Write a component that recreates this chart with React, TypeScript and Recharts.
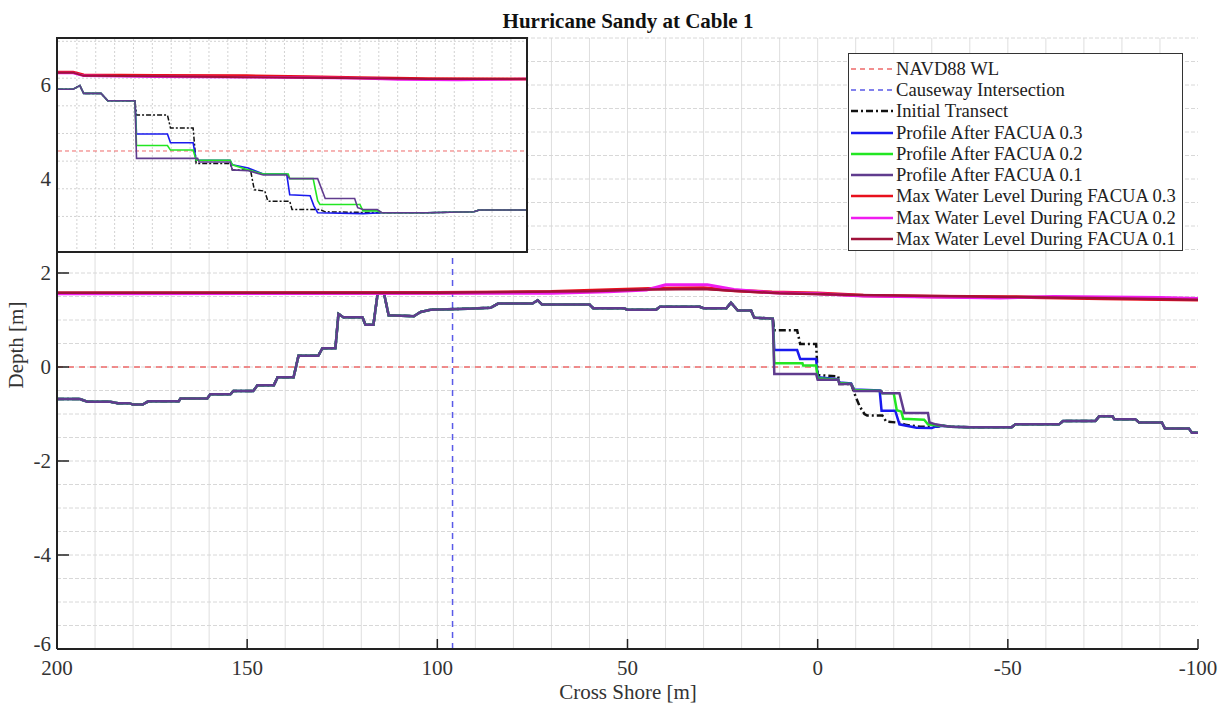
import React from 'react';
import { LineChart, Line, XAxis, YAxis, CartesianGrid, ReferenceLine } from 'recharts';

type Pt = [number, number];

// ---- main axes: cross-shore distance [m] vs depth [m]
const xTicks = [200, 150, 100, 50, 0, -50, -100];
const yTicks = [-6, -4, -2, 0, 2, 4, 6];
const navd88Level = 0;
const causewayX = 96;

// profile landward of the scarp, same for every run
const profileLandward: Pt[] = [
  [200, -0.68], [194, -0.68], [192, -0.74], [186, -0.74], [184, -0.77], [181, -0.77], [180, -0.8],
  [177.5, -0.8], [176, -0.73], [168, -0.73], [167.5, -0.67], [160.5, -0.67], [159.7, -0.58],
  [154.4, -0.58], [153.6, -0.51], [148.4, -0.51], [147.3, -0.39], [143, -0.39], [142, -0.22],
  [137.8, -0.22], [136.5, 0.24], [131.3, 0.24], [130.2, 0.4], [126.8, 0.4], [126, 1.13],
  [124.7, 1.06], [119.7, 1.06], [118.9, 0.9], [116.8, 0.9], [115.7, 1.56], [114, 1.56],
  [112.8, 1.1], [106.2, 1.08], [104.4, 1.17], [101.8, 1.22], [92, 1.24], [86, 1.26], [84, 1.35],
  [75, 1.35], [73.6, 1.42], [72.5, 1.33], [60, 1.33], [59, 1.25], [51, 1.25], [50, 1.22],
  [42.5, 1.22], [41.5, 1.28], [31, 1.28], [30, 1.25], [24, 1.25], [22.8, 1.37], [21, 1.2],
  [17.5, 1.2], [16.7, 1.05], [11.8, 1.03],
];
// profile seaward of the eroded zone
const profileSeaward: Pt[] = [
  [-33, -1.25], [-35, -1.27], [-40, -1.28], [-51, -1.28], [-52, -1.22], [-63.5, -1.22],
  [-64.5, -1.15], [-73, -1.15], [-74, -1.05], [-77.5, -1.05], [-78, -1.11], [-83.5, -1.11],
  [-84.5, -1.18], [-90.5, -1.18], [-91.3, -1.31], [-97.6, -1.31], [-98.4, -1.4], [-100, -1.4],
];
const initialMid: Pt[] = [
  [11.4, 0.78], [5.4, 0.78], [4.6, 0.49], [0.4, 0.49], [0, -0.17], [-5.4, -0.2], [-5.7, -0.36],
  [-8.8, -0.36], [-9.5, -0.53], [-11, -0.83], [-12.3, -1], [-13, -1.03], [-17, -1.03],
  [-18, -1.16], [-22, -1.19], [-23, -1.23], [-27, -1.27], [-31, -1.27],
];
const facua03Mid: Pt[] = [
  [11.4, 0.36], [5.4, 0.36], [4.6, 0.17], [0.4, 0.17], [0, -0.22], [-5.4, -0.26], [-5.7, -0.33],
  [-8.8, -0.35], [-9.6, -0.48], [-16.3, -0.5], [-16.8, -0.93], [-20.4, -0.93], [-21.5, -1.22],
  [-26, -1.29], [-30, -1.3], [-31, -1.27],
];
const facua02Mid: Pt[] = [
  [11.4, 0.08], [4, 0.08], [3.8, 0.03], [0.4, 0.03], [0, -0.24], [-5.4, -0.27], [-5.7, -0.34],
  [-8.8, -0.36], [-9.6, -0.49], [-16.7, -0.51], [-17, -0.56], [-20, -0.56], [-20.8, -0.92],
  [-22, -0.95], [-22.5, -1.1], [-28, -1.12], [-29, -1.22], [-31, -1.24],
];
const facua01Mid: Pt[] = [
  [11.4, -0.15], [0.4, -0.15], [0, -0.27], [-5.4, -0.27], [-5.7, -0.36], [-8.8, -0.36],
  [-9.6, -0.51], [-16.7, -0.51], [-17, -0.56], [-21.5, -0.56], [-22.8, -0.98], [-29, -0.98],
  [-29.4, -1.18], [-31, -1.22],
];
const waterLevel03: Pt[] = [
  [200, 1.57], [100, 1.58], [70, 1.6], [55, 1.64], [42, 1.67], [30, 1.68], [22, 1.63], [12, 1.59],
  [0, 1.57], [-12, 1.52], [-30, 1.5], [-50, 1.49], [-75, 1.46], [-100, 1.43],
];
const waterLevel02: Pt[] = [
  [200, 1.56], [100, 1.57], [70, 1.57], [55, 1.6], [45, 1.64], [40, 1.75], [29, 1.75], [22, 1.65],
  [12, 1.58], [0, 1.56], [-12, 1.51], [-48, 1.47], [-62, 1.5], [-90, 1.48], [-100, 1.46],
];
const waterLevel01: Pt[] = [
  [200, 1.58], [100, 1.58], [60, 1.61], [45, 1.65], [30, 1.66], [20, 1.61], [10, 1.57],
  [-10, 1.53], [-50, 1.49], [-80, 1.46], [-100, 1.43],
];

// ---- inset (zoom on the scarp)
const insetXTicks = [20, 15, 10, 5, 0, -5, -10, -15, -20, -25, -30, -35];
const insetNavd88 = 4.62;
const insetLandward: Pt[] = [
  [25, 5.96], [23, 5.96], [22.1, 6.04], [21.6, 5.87], [19.3, 5.87], [18.4, 5.71], [14.8, 5.71],
];
const insetSeaward: Pt[] = [[-23.8, 3.28], [-30.1, 3.3], [-30.8, 3.34], [-37, 3.34]];
const insetInitialMid: Pt[] = [
  [14.6, 5.4], [10.5, 5.4], [10.1, 5.12], [7.1, 5.12], [6.7, 4.35], [2.2, 4.35], [1.9, 4.21],
  [-0.5, 4.21], [-1, 3.78], [-2.4, 3.75], [-2.8, 3.53], [-5.7, 3.53], [-6, 3.35], [-9.7, 3.35],
  [-10.4, 3.3], [-17.9, 3.28],
];
const insetFacua03Mid: Pt[] = [
  [14.6, 4.99], [10.5, 4.99], [10.1, 4.8], [7.1, 4.8], [6.7, 4.42], [2.2, 4.42], [1.9, 4.32],
  [-0.2, 4.25], [-2.2, 4.12], [-5.3, 4.12], [-5.7, 3.67], [-8.4, 3.65], [-8.9, 3.43],
  [-9.4, 3.28], [-15.4, 3.26], [-17.9, 3.28],
];
const insetFacua02Mid: Pt[] = [
  [14.6, 4.74], [10.5, 4.74], [10.1, 4.64], [7.1, 4.64], [6.7, 4.42], [2.2, 4.42], [1.9, 4.32],
  [-0.2, 4.21], [-2.2, 4.12], [-5.5, 4.12], [-5.7, 4.02], [-8.8, 4.02], [-9.4, 3.54],
  [-9.7, 3.46], [-15, 3.46], [-15.4, 3.32], [-17.3, 3.32], [-17.9, 3.28],
];
const insetFacua01Mid: Pt[] = [
  [14.6, 4.46], [6.5, 4.46], [6.3, 4.38], [2.2, 4.38], [1.9, 4.21], [-0.2, 4.19], [-2.2, 4.1],
  [-5.3, 4.1], [-5.7, 4.02], [-9.4, 4.02], [-10.4, 3.59], [-14.3, 3.59], [-14.7, 3.39],
  [-15.4, 3.35], [-17.3, 3.35], [-17.9, 3.28],
];
const insetWater03: Pt[] = [
  [25, 6.33], [23, 6.33], [21.6, 6.27], [12, 6.26], [0, 6.25], [-8, 6.23], [-15, 6.21],
  [-24, 6.19], [-37, 6.18],
];
const insetWater02: Pt[] = [
  [25, 6.31], [23, 6.31], [21.6, 6.25], [12, 6.23], [0, 6.22], [-15, 6.2], [-20, 6.17],
  [-28, 6.16], [-37, 6.18],
];
const insetWater01: Pt[] = [
  [25, 6.32], [23, 6.32], [21.6, 6.25], [12, 6.24], [0, 6.22], [-15, 6.2], [-24, 6.18],
  [-37, 6.18],
];

const colors = {
  navd: '#ee6a6a',
  causeway: '#5a5ae8',
  initial: '#111111',
  f03: '#1a1aee',
  f02: '#22e622',
  f01: '#603c8e',
  w03: '#e8101c',
  w02: '#f01cf0',
  w01: '#a0123a',
};

const FONT = '"Liberation Serif", "Times New Roman", serif';

const toData = (...parts: Pt[][]) => parts.flat().map(([x, y]) => ({ x, y }));
const range = (a: number, b: number, step: number) => {
  const out: number[] = [];
  const n = Math.round((b - a) / step);
  for (let i = 0; i <= n; i++) out.push(+(a + i * step).toFixed(3));
  return out;
};

const legendItems = [
  { label: 'NAVD88 WL', color: colors.navd, dash: '5 4', w: 1.5 },
  { label: 'Causeway Intersection', color: colors.causeway, dash: '5 4', w: 1.5 },
  { label: 'Initial Transect', color: colors.initial, dash: '7 3 2 3', w: 2.5 },
  { label: 'Profile After FACUA 0.3', color: colors.f03, dash: undefined, w: 2.5 },
  { label: 'Profile After FACUA 0.2', color: colors.f02, dash: undefined, w: 2.5 },
  { label: 'Profile After FACUA 0.1', color: colors.f01, dash: undefined, w: 2.5 },
  { label: 'Max Water Level During FACUA 0.3', color: colors.w03, dash: undefined, w: 2.5 },
  { label: 'Max Water Level During FACUA 0.2', color: colors.w02, dash: undefined, w: 2.5 },
  { label: 'Max Water Level During FACUA 0.1', color: colors.w01, dash: undefined, w: 2.5 },
];

const X_TICK_GAP = 10;

const BottomTick = (props: any) => {
  const { x, y, payload } = props;
  const axisY = y - X_TICK_GAP;
  return (
    <g>
      <line x1={x} x2={x} y1={axisY} y2={axisY - 10} stroke="#222" strokeWidth={1.5} />
      <text x={x} y={y} dy="0.78em" textAnchor="middle" fontSize={21} fontFamily={FONT} fill="#333">
        {payload.value}
      </text>
    </g>
  );
};

const LeftTick = (props: any) => {
  const { x, y, payload } = props;
  const axisX = x + 6;
  // lowest label sits a touch higher so it clears the first x label
  const lift = payload.value === yTicks[0] ? -5 : 0;
  return (
    <g>
      <line x1={axisX} x2={axisX + 12} y1={y} y2={y} stroke="#222" strokeWidth={1.5} />
      <text x={x} y={y + lift} dy="0.35em" textAnchor="end" fontSize={21} fontFamily={FONT} fill="#333">
        {payload.value}
      </text>
    </g>
  );
};

const InsetTick = (props: any) => {
  const { x, y } = props;
  return <line x1={x} x2={x} y1={y} y2={y - 5} stroke="#222" strokeWidth={1} />;
};

const Inset = () => (
  <div
    style={{
      position: 'absolute', left: 56, top: 37, width: 472, height: 216,
      border: '2px solid #222', background: '#fff', boxSizing: 'border-box',
    }}
  >
    <LineChart width={468} height={212} margin={{ top: 0, right: 0, bottom: 0, left: 0 }}>
      <CartesianGrid verticalValues={range(-35, 22.5, 2.5)} horizontal={false} stroke="#d2d2d2" strokeDasharray="2 2" />
      <CartesianGrid horizontalValues={range(2.6, 7, 0.2)} vertical={false} stroke="#d2d2d2" strokeDasharray="2 2" />
      <XAxis
        type="number" dataKey="x" domain={[-37, 25]} reversed allowDataOverflow
        ticks={insetXTicks} interval={0} height={0} tickSize={0} tickMargin={0}
        axisLine={false} tick={(p: any) => <InsetTick {...p} />}
      />
      <YAxis type="number" domain={[2.45, 7.05]} allowDataOverflow hide />
      <ReferenceLine y={insetNavd88} stroke={colors.navd} strokeWidth={1} strokeDasharray="4 3" />
      <Line data={toData(insetLandward, insetInitialMid, insetSeaward)} dataKey="y" stroke={colors.initial} strokeWidth={1.5} strokeDasharray="5 2 2 2" dot={false} isAnimationActive={false} />
      <Line data={toData(insetLandward, insetFacua03Mid, insetSeaward)} dataKey="y" stroke={colors.f03} strokeWidth={1.6} dot={false} isAnimationActive={false} />
      <Line data={toData(insetLandward, insetFacua02Mid, insetSeaward)} dataKey="y" stroke={colors.f02} strokeWidth={1.6} dot={false} isAnimationActive={false} />
      <Line data={toData(insetLandward, insetFacua01Mid, insetSeaward)} dataKey="y" stroke={colors.f01} strokeWidth={1.6} dot={false} isAnimationActive={false} />
      <Line data={toData(insetWater03)} dataKey="y" stroke={colors.w03} strokeWidth={3} dot={false} isAnimationActive={false} />
      <Line data={toData(insetWater02)} dataKey="y" stroke={colors.w02} strokeWidth={2.5} dot={false} isAnimationActive={false} />
      <Line data={toData(insetWater01)} dataKey="y" stroke={colors.w01} strokeWidth={2} dot={false} isAnimationActive={false} />
    </LineChart>
  </div>
);

const LegendBox = () => (
  <div
    style={{
      position: 'absolute', left: 848, top: 53, width: 335, height: 198,
      border: '1.5px solid #333', background: '#fff', boxSizing: 'border-box',
      fontFamily: FONT, fontSize: 18.6, color: '#222', paddingTop: 4,
    }}
  >
    {legendItems.map((it) => (
      <div key={it.label} style={{ display: 'flex', alignItems: 'center', height: 21.3, whiteSpace: 'nowrap' }}>
        <svg width={44} height={10} style={{ marginLeft: 2, marginRight: 1, flex: 'none' }}>
          <line x1={0} x2={42} y1={5} y2={5} stroke={it.color} strokeWidth={it.w} strokeDasharray={it.dash} />
        </svg>
        <span>{it.label}</span>
      </div>
    ))}
  </div>
);

export default function App() {
  return (
    <div style={{ position: 'absolute', left: 0, top: 0, width: 1220, height: 706, background: '#fff', fontFamily: FONT }}>
      <LineChart width={1220} height={706} margin={{ top: 38, right: 22, bottom: 0, left: 0 }}>
        <CartesianGrid verticalValues={range(-90, 190, 10)} horizontal={false} stroke="#dedede" />
        <CartesianGrid horizontalValues={range(-5.5, 7, 0.5)} vertical={false} stroke="#d8d8d8" strokeDasharray="4 2" />
        <XAxis
          type="number" dataKey="x" domain={[-100, 200]} reversed allowDataOverflow
          ticks={xTicks} interval={0} height={57} tickSize={0} tickMargin={X_TICK_GAP}
          axisLine={{ stroke: '#222', strokeWidth: 2 }} tick={(p: any) => <BottomTick {...p} />}
        />
        <YAxis
          type="number" domain={[-6, 7]} allowDataOverflow
          ticks={yTicks} interval={0} width={57} tickSize={0} tickMargin={6}
          axisLine={{ stroke: '#222', strokeWidth: 2 }} tick={(p: any) => <LeftTick {...p} />}
        />
        <ReferenceLine y={navd88Level} stroke={colors.navd} strokeWidth={1.3} strokeDasharray="6 5" />
        <ReferenceLine x={causewayX} stroke={colors.causeway} strokeWidth={1.5} strokeDasharray="6 5" />
        <Line data={toData(profileLandward, initialMid, profileSeaward)} dataKey="y" stroke={colors.initial} strokeWidth={2.5} strokeDasharray="7 3 2 3" dot={false} isAnimationActive={false} />
        <Line data={toData(profileLandward, facua03Mid, profileSeaward)} dataKey="y" stroke={colors.f03} strokeWidth={2.5} dot={false} isAnimationActive={false} />
        <Line data={toData(profileLandward, facua02Mid, profileSeaward)} dataKey="y" stroke={colors.f02} strokeWidth={2.5} dot={false} isAnimationActive={false} />
        <Line data={toData(profileLandward, facua01Mid, profileSeaward)} dataKey="y" stroke={colors.f01} strokeWidth={2.5} dot={false} isAnimationActive={false} />
        <Line data={toData(waterLevel03)} dataKey="y" stroke={colors.w03} strokeWidth={3.5} dot={false} isAnimationActive={false} />
        <Line data={toData(waterLevel02)} dataKey="y" stroke={colors.w02} strokeWidth={3} dot={false} isAnimationActive={false} />
        <Line data={toData(waterLevel01)} dataKey="y" stroke={colors.w01} strokeWidth={2.5} dot={false} isAnimationActive={false} />
      </LineChart>

      <Inset />
      <LegendBox />

      <div style={{ position: 'absolute', left: 378, top: 9, width: 500, textAlign: 'center', fontSize: 21, fontWeight: 'bold', color: '#111' }}>
        Hurricane Sandy at Cable 1
      </div>
      <div style={{ position: 'absolute', left: 478, top: 680, width: 300, textAlign: 'center', fontSize: 21, color: '#333' }}>
        Cross Shore [m]
      </div>
      <div
        style={{
          position: 'absolute', left: 16, top: 345, width: 200, marginLeft: -100, marginTop: -12,
          textAlign: 'center', fontSize: 21, color: '#333', transform: 'rotate(-90deg)', lineHeight: '24px',
        }}
      >
        Depth [m]
      </div>
    </div>
  );
}
